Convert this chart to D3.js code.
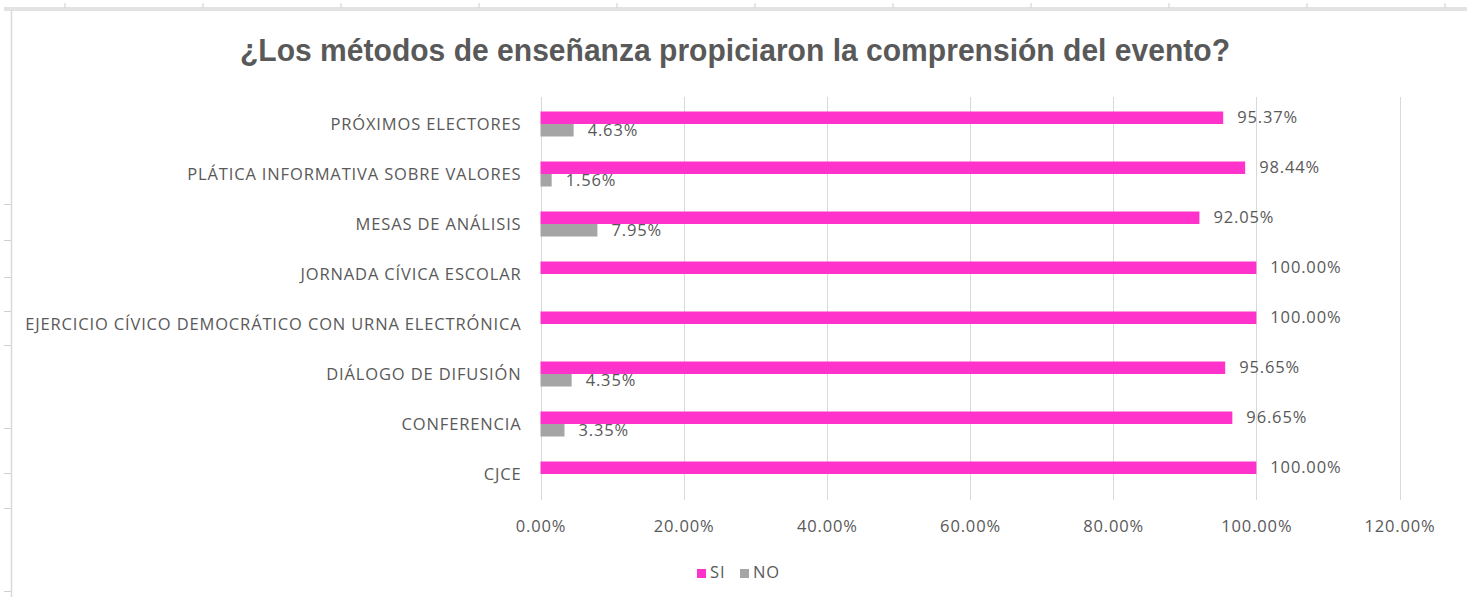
<!DOCTYPE html>
<html>
<head>
<meta charset="utf-8">
<script src="https://cdn.jsdelivr.net/npm/d3@7"></script>
<style>
  html, body { margin: 0; padding: 0; background: #fff; }
  svg { display: block; }
</style>
</head>
<body>
<svg id="chart" width="1467" height="597"></svg>
<script>
const categories = [
  "PRÓXIMOS ELECTORES",
  "PLÁTICA INFORMATIVA SOBRE VALORES",
  "MESAS DE ANÁLISIS",
  "JORNADA CÍVICA ESCOLAR",
  "EJERCICIO CÍVICO DEMOCRÁTICO CON URNA ELECTRÓNICA",
  "DIÁLOGO DE DIFUSIÓN",
  "CONFERENCIA",
  "CJCE"
];
const seriesNames = ["SI", "NO"];
const siValues = [0.9537, 0.9844, 0.9205, 1.0, 1.0, 0.9565, 0.9665, 1.0];
const noValues = [0.0463, 0.0156, 0.0795, 0, 0, 0.0435, 0.0335, 0];
const xTicks = [0, 0.2, 0.4, 0.6, 0.8, 1.0, 1.2];
const title = "¿Los métodos de enseñanza propiciaron la comprensión del evento?";

const colors = { SI: "#FF33CC", NO: "#A5A5A5" };
const textColor = "#595959";
const labelFont = "'Open Sans', 'Noto Sans', sans-serif";
const labelSize = 16.5;
const labelSpacing = "0.85px";

const svg = d3.select("#chart");

function styleLabel(sel) {
  return sel.attr("font-family", labelFont).attr("font-size", labelSize)
    .attr("letter-spacing", labelSpacing).attr("fill", textColor);
}

// spreadsheet frame decorations
const frame = svg.append("g");
frame.append("rect").attr("x", 4).attr("y", 7).attr("width", 1463).attr("height", 4).attr("fill", "#e3e3e3");
[65, 203, 341, 479, 617, 755, 893, 1031, 1169, 1307, 1445].forEach(x => {
  frame.append("line").attr("x1", x).attr("x2", x).attr("y1", 3).attr("y2", 8).attr("stroke", "#d0d0d0");
});
frame.append("line").attr("x1", 11.5).attr("x2", 11.5).attr("y1", 10).attr("y2", 597).attr("stroke", "#d9d9d9").attr("stroke-width", 1.5);
[204, 240, 277, 311, 345, 428, 473, 508, 591].forEach(y => {
  frame.append("line").attr("x1", 4).attr("x2", 11).attr("y1", y + 0.5).attr("y2", y + 0.5).attr("stroke", "#d0d0d0");
});

const x = d3.scaleLinear().domain([0, 1.2]).range([540.5, 1399.5]);
const y = d3.scaleBand().domain(categories).range([99, 499]).paddingInner(0).paddingOuter(0);
const yIn = d3.scaleBand().domain(seriesNames).range([0, y.bandwidth()]).paddingInner(0).paddingOuter(1);

// title
svg.append("text")
  .attr("x", 735).attr("y", 61)
  .attr("text-anchor", "middle")
  .attr("font-family", "'Liberation Sans', Arial, sans-serif")
  .attr("font-weight", "bold")
  .attr("font-size", 32)
  .attr("textLength", 990)
  .attr("lengthAdjust", "spacingAndGlyphs")
  .attr("fill", textColor)
  .text(title);

// gridlines
const grid = svg.append("g");
grid.selectAll("line").data(xTicks).join("line")
  .attr("x1", d => Math.round(x(d)) + 0.5).attr("x2", d => Math.round(x(d)) + 0.5)
  .attr("y1", 97).attr("y2", 500)
  .attr("stroke", "#d9d9d9").attr("stroke-width", 1);

// x axis labels
const xAxis = d3.axisBottom(x).tickValues(xTicks).tickFormat(d3.format(".2%")).tickSize(0).tickPadding(0);
const gx = svg.append("g").attr("transform", "translate(0,520)").call(xAxis);
gx.select(".domain").remove();
styleLabel(gx.selectAll("text")).attr("dy", "0.71em");

// y axis labels
const yAxis = d3.axisLeft(y).tickSize(0).tickPadding(19);
const gy = svg.append("g").attr("transform", "translate(540.5,1)").call(yAxis);
gy.select(".domain").remove();
styleLabel(gy.selectAll("text"));

// bars
const rows = categories.map((c, i) => ({ cat: c, SI: siValues[i], NO: noValues[i] }));
const groups = svg.append("g").selectAll("g").data(rows).join("g")
  .attr("transform", d => `translate(0,${y(d.cat)})`);

groups.selectAll("rect").data(d => seriesNames.map(s => ({ s, v: d[s] }))).join("rect")
  .attr("x", x(0))
  .attr("y", d => yIn(d.s))
  .attr("width", d => x(d.v) - x(0))
  .attr("height", yIn.bandwidth())
  .attr("fill", d => colors[d.s]);

styleLabel(groups.selectAll("text.lbl").data(d => seriesNames.map(s => ({ s, v: d[s] })).filter(e => e.v > 0)).join("text")
  .attr("class", "lbl")
  .attr("x", d => x(d.v) + 14)
  .attr("y", d => yIn(d.s) + yIn.bandwidth() / 2 + 1)
  .attr("dominant-baseline", "middle"))
  .text(d => d3.format(".2%")(d.v));

// legend
const legend = svg.append("g").attr("transform", "translate(697,569)");
const legItems = legend.selectAll("g").data(seriesNames).join("g")
  .attr("transform", (d, i) => `translate(${i * 43},0)`);
legItems.append("rect").attr("width", 9).attr("height", 9).attr("fill", d => colors[d]);
styleLabel(legItems.append("text").attr("x", 13).attr("y", 5).attr("dominant-baseline", "middle")).text(d => d);
</script>
</body>
</html>
